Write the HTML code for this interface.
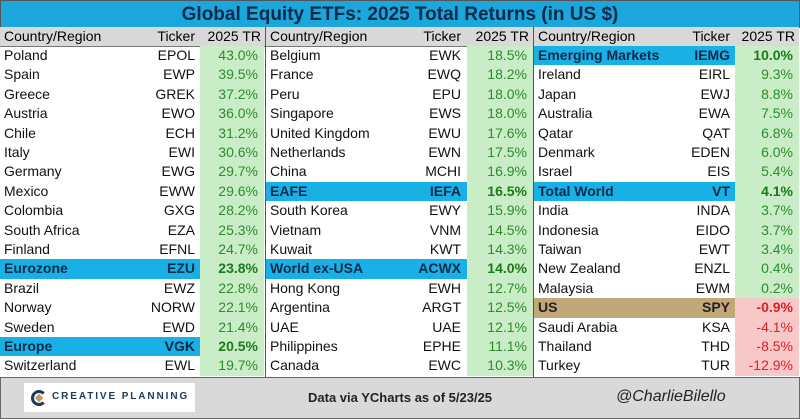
<!DOCTYPE html><html><head><style>
body{margin:0;width:800px;height:420px;background:#fff;font-family:"Liberation Sans",sans-serif;overflow:hidden;position:relative}
.title{position:absolute;left:0;top:0;width:798px;height:26px;background:#1ba6dc;border:1px solid #555;color:#0b2a4a;font-weight:bold;font-size:19px;text-align:center;line-height:27px}
.hdr{position:absolute;top:27px;height:19px;background:#d9d9d9;font-size:14px;line-height:19px;border-bottom:1px solid #777}
.r{position:absolute;height:19.4px;font-size:14px;line-height:19.4px;color:#111}
.n{position:absolute;left:4px}
.t{position:absolute;text-align:right}
.v{position:absolute;text-align:right;color:#2e8b2e;background:#c9edc6;height:100%}
.neg{color:#d22;background:#f6c8c8}
.hl{font-weight:bold;color:#0b2a4a}
.hl .v{font-weight:bold;color:#1b7a1b}
.us{font-weight:bold;color:#222}
.footer{position:absolute;left:0;top:377px;width:798px;height:40px;background:#d9d9d9;border:1px solid #666}
.vl{position:absolute;top:27px;width:1px;height:350px;background:#555}
</style></head><body>
<div class="title">Global Equity ETFs: 2025 Total Returns (in US $)</div>
<div id="c"></div>
<div class="footer">
<div style="position:absolute;left:23px;top:5px;width:171px;height:29px;background:#fff"></div>
<div style="position:absolute;left:30px;top:12px;width:16px;height:16px;border:3px solid #1b3b5a;border-right-color:transparent;border-radius:50%;box-sizing:border-box"></div>
<div style="position:absolute;left:35px;top:17px;width:6px;height:6px;background:#c59a5a;transform:rotate(45deg)"></div>
<div style="position:absolute;left:51px;top:13px;font-size:10px;letter-spacing:1.9px;color:#1b3b5a;font-weight:bold">CREATIVE PLANNING</div>
<div style="position:absolute;left:307px;top:12px;font-size:13px;font-weight:bold;color:#222">Data via YCharts as of 5/23/25</div>
<div style="position:absolute;left:615px;top:10px;font-size:16px;font-style:italic;color:#222">@CharlieBilello</div>
</div>
<script>
const cols=[
{x:0,w:265,tx:195,vx:200,vw:64,rows:[["Poland","EPOL","43.0%"],["Spain","EWP","39.5%"],["Greece","GREK","37.2%"],["Austria","EWO","36.0%"],["Chile","ECH","31.2%"],["Italy","EWI","30.6%"],["Germany","EWG","29.7%"],["Mexico","EWW","29.6%"],["Colombia","GXG","28.2%"],["South Africa","EZA","25.3%"],["Finland","EFNL","24.7%"],["Eurozone","EZU","23.8%","hl"],["Brazil","EWZ","22.8%"],["Norway","NORW","22.1%"],["Sweden","EWD","21.4%"],["Europe","VGK","20.5%","hl"],["Switzerland","EWL","19.7%"]]},
{x:266,w:267,tx:195,vx:201,vw:66,rows:[["Belgium","EWK","18.5%"],["France","EWQ","18.2%"],["Peru","EPU","18.0%"],["Singapore","EWS","18.0%"],["United Kingdom","EWU","17.6%"],["Netherlands","EWN","17.5%"],["China","MCHI","16.9%"],["EAFE","IEFA","16.5%","hl"],["South Korea","EWY","15.9%"],["Vietnam","VNM","14.5%"],["Kuwait","KWT","14.3%"],["World ex-USA","ACWX","14.0%","hl"],["Hong Kong","EWH","12.7%"],["Argentina","ARGT","12.5%"],["UAE","UAE","12.1%"],["Philippines","EPHE","11.1%"],["Canada","EWC","10.3%"]]},
{x:534,w:265,tx:196,vx:201,vw:64,rows:[["Emerging Markets","IEMG","10.0%","hl"],["Ireland","EIRL","9.3%"],["Japan","EWJ","8.8%"],["Australia","EWA","7.5%"],["Qatar","QAT","6.8%"],["Denmark","EDEN","6.0%"],["Israel","EIS","5.4%"],["Total World","VT","4.1%","hl"],["India","INDA","3.7%"],["Indonesia","EIDO","3.7%"],["Taiwan","EWT","3.4%"],["New Zealand","ENZL","0.4%"],["Malaysia","EWM","0.2%"],["US","SPY","-0.9%","us"],["Saudi Arabia","KSA","-4.1%"],["Thailand","THD","-8.5%"],["Turkey","TUR","-12.9%"]]}];
let h="";
cols.forEach((c,ci)=>{
h+=`<div class="hdr" style="left:${c.x}px;width:${c.w}px"><span style="position:absolute;left:4px">Country/Region</span><span style="position:absolute;right:${c.w-c.tx}px">Ticker</span><span style="position:absolute;right:4px">2025 TR</span></div>`;
c.rows.forEach((r,i)=>{
const y=46+i*19.4;const cls=r[3]||"";const neg=r[2][0]=="-";
const bg=cls=="hl"?"#19b0e6":cls=="us"?"#c2a878":"transparent";
h+=`<div class="r ${cls}" style="left:${c.x}px;top:${y}px;width:${c.w}px">
<div style="position:absolute;left:0;top:0;width:${c.vx}px;height:100%;background:${bg}"></div>
<span class="n">${r[0]}</span><span class="t" style="right:${c.w-c.tx}px">${r[1]}</span>
<div class="v${neg?' neg':''}" style="left:${c.vx}px;width:${c.vw}px"><span style="position:absolute;right:6px">${r[2]}</span></div></div>`;});
});
h+=`<div class="vl" style="left:265px"></div><div class="vl" style="left:533px"></div>`;
document.getElementById("c").innerHTML=h;
</script>
</body></html>
